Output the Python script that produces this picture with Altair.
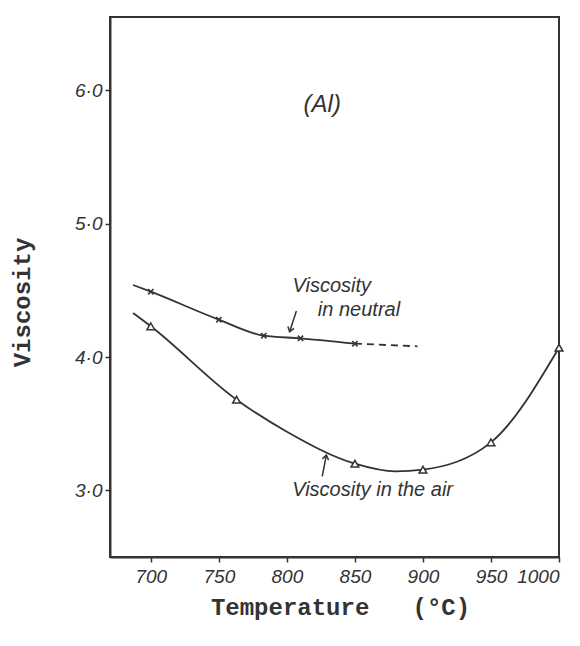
import altair as alt
import pandas as pd

ink = "#333333"

# ---- data ----
air_T = [700, 763, 850, 900, 950, 1000]
air_V = [4.23, 3.68, 3.20, 3.155, 3.36, 4.07]

air_curve_T = [687, 700, 763, 800, 850, 880, 900, 950, 1000]
air_curve_V = [4.33, 4.23, 3.68, 3.44, 3.20, 3.142, 3.155, 3.36, 4.07]

neutral_T = [700, 750, 783, 810, 850]
neutral_V = [4.49, 4.28, 4.16, 4.14, 4.10]

neutral_line_T = [687, 700, 750, 783, 810, 850]
neutral_line_V = [4.54, 4.49, 4.28, 4.16, 4.14, 4.10]

neutral_dash_T = [850, 896]
neutral_dash_V = [4.10, 4.08]

x_ticks = [700, 750, 800, 850, 900, 950, 1000]
y_ticks = [3.0, 4.0, 5.0, 6.0]

# annotations (anchor in data units)
note_text = ["Viscosity", "in neutral", "Viscosity in the air"]
note_T = [833, 853, 863]
note_V = [4.53, 4.352, 3.0]

panel_text = ["(Al)"]
panel_T = [826]
panel_V = [5.89]

arrow_T = [807, 826]
arrow_V = [4.345, 3.104]
arrow_T2 = [802, 829]
arrow_V2 = [4.19, 3.264]

air_df = pd.DataFrame({"T": air_T, "V": air_V})
air_curve_df = pd.DataFrame({"T": air_curve_T, "V": air_curve_V})
neu_df = pd.DataFrame({"T": neutral_T, "V": neutral_V})
neu_line_df = pd.DataFrame({"T": neutral_line_T, "V": neutral_line_V})
neu_dash_df = pd.DataFrame({"T": neutral_dash_T, "V": neutral_dash_V})
note_df = pd.DataFrame({"text": note_text, "T": note_T, "V": note_V})
panel_df = pd.DataFrame({"text": panel_text, "T": panel_T, "V": panel_V})
arrow_df = pd.DataFrame({"T": arrow_T, "V": arrow_V, "T2": arrow_T2, "V2": arrow_V2})

xs = alt.Scale(domain=[670, 1000], nice=False, zero=False)
ys = alt.Scale(domain=[2.5, 6.55], nice=False, zero=False)

X = alt.X("T:Q", scale=xs, axis=alt.Axis(
    values=x_ticks, format="d", title="Temperature\u00a0\u00a0\u00a0(°C)",
    titleX=230, titleY=50, titleBaseline="middle", titleAlign="center",
    labelPadding=5))
Y = alt.Y("V:Q", scale=ys, axis=alt.Axis(
    values=y_ticks, title="Viscosity",
    labelExpr="replace(format(datum.value, '.1f'), '.', '·')",
    titleX=-88, titleY=285, titleAngle=270, titleBaseline="middle", titleAlign="center",
    labelPadding=3))

air_line = alt.Chart(air_curve_df).mark_line(
    interpolate="monotone", color=ink, strokeWidth=1.8).encode(x=X, y=Y)
air_pts = alt.Chart(air_df).mark_point(
    shape="triangle-up", filled=True, fill="white", stroke=ink, strokeWidth=1.5,
    size=60, opacity=1).encode(x="T:Q", y="V:Q")

neu_line = alt.Chart(neu_line_df).mark_line(
    interpolate="monotone", color=ink, strokeWidth=1.8).encode(x="T:Q", y="V:Q")
neu_dash = alt.Chart(neu_dash_df).mark_line(
    color=ink, strokeWidth=1.8, strokeDash=[7, 5]).encode(x="T:Q", y="V:Q")
neu_pts = alt.Chart(neu_df).mark_point(
    shape="M-1,-1L1,1M1,-1L-1,1", filled=False, stroke=ink, strokeWidth=1.6,
    size=28, opacity=1).encode(x="T:Q", y="V:Q")

notes = alt.Chart(note_df).mark_text(
    font="Liberation Sans", fontStyle="italic", fontSize=20, color=ink,
    align="center", baseline="middle").encode(x="T:Q", y="V:Q", text="text:N")
panel = alt.Chart(panel_df).mark_text(
    font="Liberation Sans", fontStyle="italic", fontSize=24, color=ink,
    align="center", baseline="middle").encode(x="T:Q", y="V:Q", text="text:N")

arrow_rule = alt.Chart(arrow_df).mark_rule(color=ink, strokeWidth=1.5).encode(
    x="T:Q", y="V:Q", x2="T2:Q", y2="V2:Q")
head_down = alt.Chart(arrow_df.iloc[[0]]).mark_point(
    shape="M-1,-1.4L0,0L1,-1.4", filled=False, stroke=ink, strokeWidth=1.5,
    size=40, angle=18, opacity=1).encode(x="T2:Q", y="V2:Q")
head_up = alt.Chart(arrow_df.iloc[[1]]).mark_point(
    shape="M-1,1.4L0,0L1,1.4", filled=False, stroke=ink, strokeWidth=1.5,
    size=40, angle=11, opacity=1).encode(x="T2:Q", y="V2:Q")

chart = alt.layer(
    air_line, neu_line, neu_dash, air_pts, neu_pts,
    arrow_rule, head_down, head_up, notes, panel
).properties(
    width=449, height=540,
    autosize=alt.AutoSizeParams(type="none"),
    padding={"left": 102, "top": 9, "right": 13, "bottom": 80},
    background="white",
).configure_view(
    stroke=ink, strokeWidth=2
).configure_axis(
    grid=False, domainColor=ink, domainWidth=2, tickColor=ink, tickWidth=1.5,
    tickSize=5, labelFont="Liberation Sans", labelFontStyle="italic",
    labelFontSize=19, labelColor=ink, titleFont="Liberation Mono",
    titleFontSize=24, titleFontWeight="bold", titleColor=ink,
)

chart.save("out.html", embed_options={"renderer": "svg", "actions": False})
